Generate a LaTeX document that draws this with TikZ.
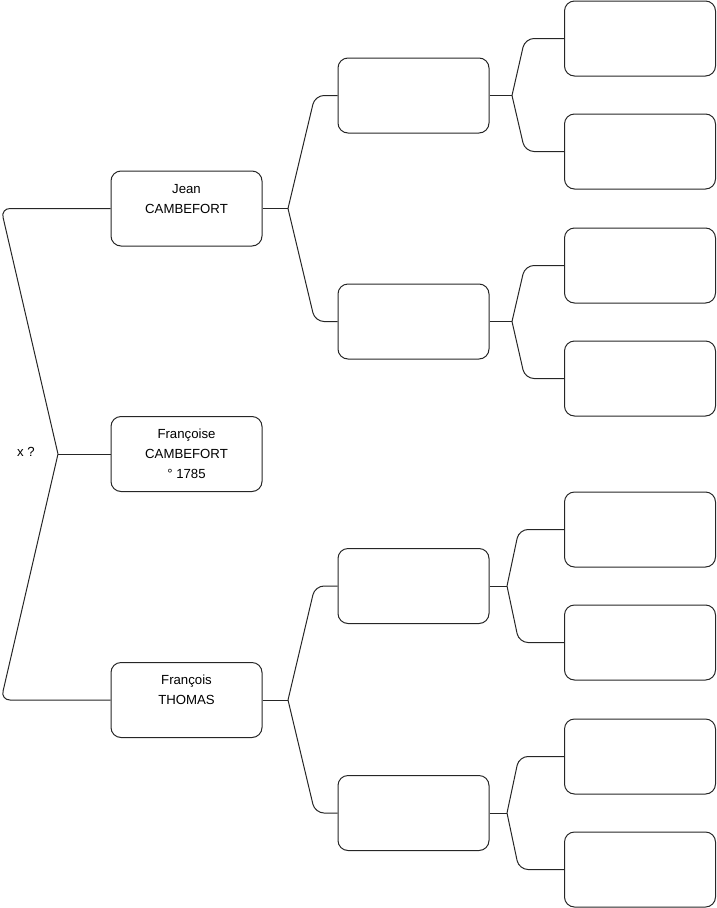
\documentclass[tikz,border=0pt]{standalone}
\usepackage{fontspec}
\setmainfont{Liberation Sans}
\usetikzlibrary{positioning}

\begin{document}
\begin{tikzpicture}[x=1pt, y=-1pt,
    person/.style={draw=black!85, line width=1pt, rounded corners=10pt,
                 minimum width=151pt, minimum height=75pt, inner sep=0pt,
                 align=center, font=\fontsize{13.2}{20}\selectfont},
    link/.style={draw=black!85, line width=1pt, rounded corners=9pt}
]
    \useasboundingbox (0,0) rectangle (716,908);

    % first generation
    \node[person] (jean) at (186.5,208.5) {Jean\\CAMBEFORT\\\mbox{}};
    \node[person] (francoise) at (186.5,454) {Françoise\\CAMBEFORT\\° 1785};
    \node[person] (francois) at (186.5,700) {François\\THOMAS\\\mbox{}};
    \node[font=\fontsize{13.2}{20}\selectfont] (mariage) at (26,452) {x ?};

    % grandparents and great-grandparents
    \foreach \i/\y in {1/95.5, 2/321.5, 3/586, 4/813}
        \node[person] (gp\i) at (413.5,\y) {};
    \foreach \i/\y in {1/38.5, 2/151.5, 3/265.5, 4/378.5, 5/529.5, 6/642.5, 7/756.5, 8/869.5}
        \node[person] (ggp\i) at (640,\y) {};

    % junctions
    \coordinate (j0) at (58,454);
    \coordinate (jJ) at (288,208.5);
    \coordinate (jF) at (288,700);
    \coordinate (j1) at (512,95.5);
    \coordinate (j2) at (512,321.5);
    \coordinate (j3) at (507,586);
    \coordinate (j4) at (507,813);

    \draw[link] (j0) -- (francoise.west);
    \draw[link] (j0) -- (1,208.5) -- (jean.west);
    \draw[link] (j0) -- (1,700) -- (francois.west);

    \draw[link] (jean.east) -- (jJ);
    \draw[link] (jJ) -- (315,95.5) -- (gp1.west);
    \draw[link] (jJ) -- (315,321.5) -- (gp2.west);
    \draw[link] (francois.east) -- (jF);
    \draw[link] (jF) -- (315,586) -- (gp3.west);
    \draw[link] (jF) -- (315,813) -- (gp4.west);

    \foreach \i/\a/\b/\x/\ya/\yb in {1/1/2/525/38.5/151.5, 2/3/4/525/265.5/378.5,
                                      3/5/6/519/529.5/642.5, 4/7/8/519/756.5/869.5} {
        \draw[link] (gp\i.east) -- (j\i);
        \draw[link] (j\i) -- (\x,\ya) -- (ggp\a.west);
        \draw[link] (j\i) -- (\x,\yb) -- (ggp\b.west);
    }
\end{tikzpicture}
\end{document}
